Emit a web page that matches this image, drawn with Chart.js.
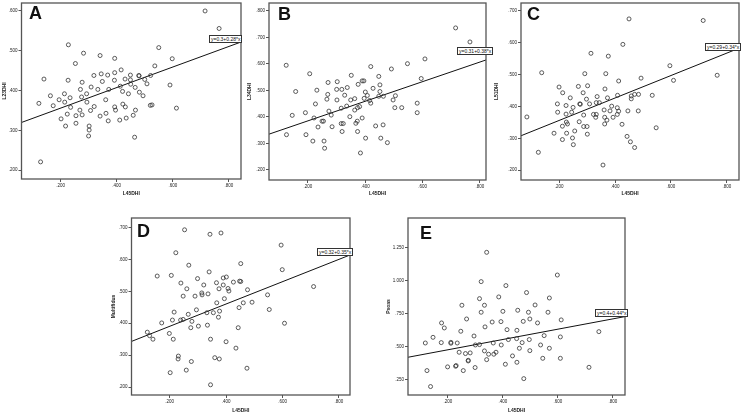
<!DOCTYPE html>
<html>
<head>
<meta charset="utf-8">
<script src="https://cdn.jsdelivr.net/npm/chart.js@4.4.0/dist/chart.umd.min.js"></script>
<style>
  body { margin: 0; background: #fff; width: 742px; height: 418px; position: relative; overflow: hidden; font-family: "Liberation Sans", Arial, sans-serif; }
  canvas { position: absolute; }
  .letter { position: absolute; font-weight: bold; font-size: 18px; line-height: 18px; color: #111; }
  .eq { position: absolute; border: 1px solid #333; background: #fff; font-size: 5px; line-height: 6px; height: 6px; padding: 0 1px; white-space: nowrap; color: #111; }
</style>
</head>
<body>
<script>
// x axis is L45DHI for every panel
const xTicks = [0.2, 0.4, 0.6, 0.8];
const xTickLabels = [".200", ".400", ".600", ".800"];
const xTitle = "L45DHI";

const panelLetters = ["A", "B", "C", "D", "E"];
const yTitles = ["L23DHI", "L34DHI", "L51DHI", "Multifidus", "Psoas"];
const eqLabels = ["y=0.3+0.28*x", "y=0.31+0.38*x", "y=0.29+0.34*x", "y=0.32+0.35*x", "y=0.4+0.44*x"];

const yTicksA = [0.2, 0.3, 0.4, 0.5, 0.6];
const yTicksB = [0.2, 0.3, 0.4, 0.5, 0.6, 0.7, 0.8];
const yTicksC = [0.2, 0.3, 0.4, 0.5, 0.6, 0.7];
const yTicksD = [0.2, 0.3, 0.4, 0.5, 0.6, 0.7];
const yTicksE = [0.25, 0.5, 0.75, 1.0, 1.25];
const yLabelsA = [".200", ".300", ".400", ".500", ".600"];
const yLabelsB = [".200", ".300", ".400", ".500", ".600", ".700", ".800"];
const yLabelsC = [".200", ".300", ".400", ".500", ".600", ".700"];
const yLabelsD = [".200", ".300", ".400", ".500", ".600", ".700"];
const yLabelsE = [".250", ".500", ".750", "1.000", "1.250"];

// axis ranges
const xRanges = [[0.061, 0.843], [0.064, 0.821], [0.064, 0.843], [0.065, 0.839], [0.055, 0.844]];
const yRanges = [[0.178, 0.62], [0.162, 0.83], [0.169, 0.725], [0.175, 0.73], [0.136, 1.477]];

const pointsA = [[0.715,0.600],[0.765,0.556],[0.228,0.515],[0.550,0.508],[0.282,0.494],[0.341,0.488],[0.393,0.481],[0.598,0.480],
  [0.253,0.468],[0.536,0.462],[0.416,0.452],[0.345,0.442],[0.393,0.445],[0.319,0.438],[0.368,0.439],[0.449,0.439],[0.479,0.438],
  [0.521,0.438],[0.480,0.437],[0.227,0.426],[0.392,0.426],[0.430,0.429],[0.500,0.428],[0.449,0.427],[0.141,0.429],[0.277,0.421],
  [0.349,0.423],[0.450,0.416],[0.508,0.417],[0.590,0.414],[0.309,0.409],[0.372,0.403],[0.413,0.411],[0.466,0.408],[0.164,0.387],
  [0.195,0.377],[0.214,0.392],[0.271,0.403],[0.293,0.392],[0.333,0.403],[0.421,0.398],[0.442,0.392],[0.481,0.396],[0.494,0.387],
  [0.174,0.362],[0.215,0.371],[0.234,0.382],[0.275,0.384],[0.294,0.371],[0.361,0.377],[0.393,0.359],[0.422,0.366],[0.431,0.359],
  [0.526,0.364],[0.520,0.363],[0.123,0.368],[0.236,0.358],[0.269,0.351],[0.307,0.350],[0.320,0.360],[0.362,0.343],[0.396,0.351],
  [0.467,0.351],[0.613,0.356],[0.224,0.341],[0.255,0.337],[0.277,0.339],[0.341,0.336],[0.411,0.326],[0.459,0.338],[0.202,0.329],
  [0.255,0.318],[0.302,0.311],[0.370,0.324],[0.434,0.331],[0.218,0.311],[0.302,0.301],[0.300,0.286],[0.464,0.283],[0.129,0.221]];

const pointsB = [[0.715,0.736],[0.765,0.683],[0.124,0.595],[0.206,0.563],[0.351,0.557],[0.419,0.590],[0.491,0.581],[0.547,0.601],
  [0.608,0.619],[0.595,0.545],[0.447,0.553],[0.157,0.496],[0.231,0.501],[0.270,0.530],[0.302,0.533],[0.269,0.485],[0.300,0.504],
  [0.318,0.504],[0.337,0.511],[0.375,0.523],[0.389,0.536],[0.395,0.536],[0.427,0.508],[0.451,0.521],[0.451,0.496],[0.400,0.494],
  [0.363,0.469],[0.328,0.482],[0.349,0.464],[0.301,0.464],[0.266,0.467],[0.226,0.449],[0.191,0.416],[0.221,0.396],[0.235,0.362],
  [0.145,0.406],[0.125,0.333],[0.193,0.333],[0.217,0.309],[0.258,0.282],[0.256,0.309],[0.249,0.384],[0.254,0.384],[0.273,0.422],
  [0.281,0.407],[0.316,0.433],[0.335,0.441],[0.363,0.426],[0.373,0.435],[0.380,0.439],[0.284,0.363],[0.316,0.375],[0.323,0.375],
  [0.346,0.401],[0.372,0.384],[0.367,0.376],[0.373,0.345],[0.319,0.345],[0.383,0.264],[0.389,0.396],[0.396,0.470],[0.407,0.481],
  [0.415,0.462],[0.419,0.452],[0.447,0.478],[0.463,0.478],[0.497,0.464],[0.503,0.435],[0.527,0.435],[0.436,0.366],[0.462,0.370],
  [0.401,0.320],[0.454,0.320],[0.477,0.303],[0.505,0.480],[0.581,0.452],[0.581,0.416]];

const pointsC = [[0.450,0.675],[0.715,0.670],[0.428,0.595],[0.314,0.567],[0.376,0.558],[0.138,0.506],[0.292,0.503],[0.367,0.503],
  [0.596,0.528],[0.765,0.498],[0.493,0.489],[0.413,0.480],[0.609,0.482],[0.200,0.461],[0.269,0.463],[0.302,0.465],[0.364,0.455],
  [0.213,0.443],[0.286,0.443],[0.240,0.427],[0.298,0.423],[0.336,0.431],[0.373,0.427],[0.409,0.435],[0.470,0.438],[0.484,0.438],
  [0.458,0.433],[0.458,0.424],[0.533,0.435],[0.194,0.408],[0.225,0.403],[0.250,0.397],[0.274,0.408],[0.276,0.407],[0.309,0.408],
  [0.344,0.412],[0.333,0.412],[0.388,0.401],[0.408,0.396],[0.361,0.389],[0.382,0.386],[0.413,0.385],[0.446,0.386],[0.483,0.386],
  [0.195,0.382],[0.225,0.376],[0.245,0.382],[0.288,0.373],[0.323,0.375],[0.333,0.375],[0.408,0.375],[0.085,0.367],[0.226,0.351],
  [0.230,0.345],[0.272,0.352],[0.331,0.366],[0.363,0.366],[0.371,0.357],[0.393,0.366],[0.363,0.345],[0.212,0.338],[0.288,0.337],
  [0.300,0.337],[0.425,0.344],[0.547,0.333],[0.182,0.316],[0.227,0.316],[0.256,0.323],[0.301,0.313],[0.212,0.296],[0.248,0.301],
  [0.443,0.306],[0.251,0.280],[0.455,0.289],[0.470,0.271],[0.126,0.256],[0.357,0.216]];

const pointsD = [[0.253,0.693],[0.222,0.621],[0.268,0.582],[0.156,0.548],[0.206,0.550],[0.240,0.526],[0.261,0.508],[0.248,0.485],
  [0.216,0.435],[0.172,0.401],[0.210,0.410],[0.121,0.372],[0.129,0.361],[0.141,0.350],[0.199,0.368],[0.213,0.350],[0.231,0.297],
  [0.230,0.288],[0.277,0.280],[0.259,0.253],[0.202,0.245],[0.345,0.207],[0.343,0.679],[0.382,0.683],[0.595,0.645],[0.340,0.561],
  [0.452,0.587],[0.599,0.568],[0.299,0.540],[0.390,0.542],[0.401,0.545],[0.321,0.520],[0.366,0.527],[0.390,0.520],[0.426,0.529],
  [0.448,0.532],[0.452,0.531],[0.375,0.508],[0.407,0.509],[0.410,0.501],[0.476,0.505],[0.290,0.485],[0.315,0.489],[0.314,0.495],
  [0.336,0.492],[0.394,0.477],[0.547,0.489],[0.367,0.464],[0.446,0.449],[0.461,0.464],[0.492,0.466],[0.553,0.443],[0.295,0.442],
  [0.266,0.428],[0.332,0.433],[0.355,0.433],[0.377,0.438],[0.373,0.419],[0.239,0.410],[0.248,0.412],[0.279,0.406],[0.275,0.386],
  [0.302,0.391],[0.334,0.394],[0.443,0.386],[0.607,0.400],[0.345,0.350],[0.400,0.342],[0.435,0.322],[0.360,0.292],[0.376,0.288],
  [0.474,0.259],[0.710,0.515]];

const pointsE = [[0.341,1.217],[0.598,1.045],[0.321,0.995],[0.411,0.965],[0.486,0.912],[0.315,0.866],[0.385,0.879],[0.569,0.871],
  [0.251,0.816],[0.333,0.816],[0.517,0.818],[0.321,0.763],[0.400,0.770],[0.454,0.778],[0.493,0.763],[0.564,0.763],[0.268,0.712],
  [0.361,0.689],[0.393,0.692],[0.474,0.694],[0.498,0.712],[0.526,0.682],[0.612,0.705],[0.177,0.682],[0.187,0.644],[0.335,0.652],
  [0.247,0.619],[0.415,0.631],[0.451,0.626],[0.146,0.573],[0.295,0.583],[0.420,0.556],[0.450,0.563],[0.496,0.556],[0.550,0.586],
  [0.609,0.576],[0.749,0.616],[0.118,0.530],[0.176,0.533],[0.211,0.528],[0.211,0.535],[0.234,0.530],[0.300,0.515],[0.315,0.518],
  [0.365,0.530],[0.394,0.515],[0.470,0.533],[0.537,0.515],[0.241,0.460],[0.264,0.450],[0.281,0.455],[0.333,0.470],[0.348,0.445],
  [0.367,0.445],[0.375,0.460],[0.460,0.490],[0.498,0.472],[0.569,0.490],[0.274,0.399],[0.274,0.394],[0.341,0.404],[0.435,0.432],
  [0.451,0.384],[0.545,0.414],[0.609,0.414],[0.409,0.369],[0.199,0.349],[0.228,0.354],[0.230,0.359],[0.299,0.344],[0.124,0.321],
  [0.256,0.321],[0.713,0.346],[0.476,0.260],[0.137,0.200]];

// fit line end points
const fitA = [[0.061, 0.320], [0.843, 0.522]];
const fitB = [[0.064, 0.335], [0.821, 0.615]];
const fitC = [[0.064, 0.308], [0.843, 0.583]];
const fitD = [[0.065, 0.343], [0.839, 0.614]];
const fitE = [[0.055, 0.422], [0.844, 0.730]];

// page layout: plot frame, title positions, letter and equation box spots
const frames = [
  { l: 21, t: 3, r: 240, b: 179, yt: 4.5, xt: 194, lx: 29, ly: 4, ex: 209, ey: 35 },
  { l: 269, t: 3, r: 486, b: 180, yt: 250, xt: 194, lx: 278, ly: 5, ex: 457, ey: 47 },
  { l: 521, t: 3, r: 739, b: 180, yt: 497, xt: 194, lx: 527, ly: 5, ex: 705, ey: 43 },
  { l: 131, t: 218, r: 349, b: 395, yt: 113.5, xt: 411, lx: 137, ly: 222, ex: 317, ey: 248 },
  { l: 408, t: 218, r: 625, b: 395, yt: 389, xt: 411, lx: 420, ly: 224, ex: 595, ey: 309 }
];

const allPoints = [pointsA, pointsB, pointsC, pointsD, pointsE];
const allFits = [fitA, fitB, fitC, fitD, fitE];
const allYTicks = [yTicksA, yTicksB, yTicksC, yTicksD, yTicksE];
const allYLabels = [yLabelsA, yLabelsB, yLabelsC, yLabelsD, yLabelsE];

const framePlugin = {
  id: "frame",
  afterDraw(chart) {
    const a = chart.chartArea, ctx = chart.ctx;
    ctx.save();
    ctx.strokeStyle = "#555";
    ctx.lineWidth = 1.3;
    ctx.strokeRect(a.left, a.top, a.right - a.left, a.bottom - a.top);
    ctx.restore();
  }
};

frames.forEach((f, i) => {
  const padT = 6, padR = 8;
  const cl = f.yt - 3;
  const ct = f.t - padT;
  const w = Math.round(f.r - cl + padR);
  const h = Math.round(f.xt + 3 - ct);
  const axL = f.l - cl;
  const axB = (ct + h) - f.b;

  const canvas = document.createElement("canvas");
  canvas.width = w; canvas.height = h;
  canvas.style.left = cl + "px"; canvas.style.top = ct + "px";
  canvas.style.width = w + "px"; canvas.style.height = h + "px";
  document.body.appendChild(canvas);

  const yT = allYTicks[i], yL = allYLabels[i];
  const tickFont = { family: "Liberation Sans", size: 4.5 };
  const titleFont = { family: "Liberation Sans", size: 5, weight: "bold" };

  new Chart(canvas.getContext("2d"), {
    type: "scatter",
    data: {
      datasets: [
        {
          data: allPoints[i].map(p => ({ x: p[0], y: p[1] })),
          pointRadius: 2,
          pointBorderWidth: 0.8,
          pointBorderColor: "#333",
          pointBackgroundColor: "rgba(255,255,255,0)"
        },
        {
          type: "line",
          data: allFits[i].map(p => ({ x: p[0], y: p[1] })),
          borderColor: "#111",
          borderWidth: 1,
          pointRadius: 0,
          fill: false
        }
      ]
    },
    options: {
      responsive: false,
      animation: false,
      devicePixelRatio: 1,
      layout: { padding: { top: padT, right: padR, left: 0, bottom: 0 } },
      plugins: { legend: { display: false }, tooltip: { enabled: false } },
      scales: {
        x: {
          type: "linear",
          min: xRanges[i][0], max: xRanges[i][1],
          afterBuildTicks: s => { s.ticks = xTicks.map(v => ({ value: v })); },
          afterFit: s => { s.height = axB; },
          ticks: { font: tickFont, color: "#222", padding: 1, autoSkip: false, maxRotation: 0, callback: (v, k) => xTickLabels[k] },
          grid: { drawOnChartArea: false, drawTicks: true, tickLength: 3, color: "#555" },
          border: { display: false },
          title: { display: true, text: xTitle, font: titleFont, color: "#222", padding: 0 }
        },
        y: {
          type: "linear",
          min: yRanges[i][0], max: yRanges[i][1],
          afterBuildTicks: s => { s.ticks = yT.map(v => ({ value: v })); },
          afterFit: s => { s.width = axL; },
          ticks: { font: tickFont, color: "#222", padding: 1, autoSkip: false, callback: (v, k) => yL[k] },
          grid: { drawOnChartArea: false, drawTicks: true, tickLength: 3, color: "#555" },
          border: { display: false },
          title: { display: true, text: yTitles[i], font: titleFont, color: "#222", padding: 0 }
        }
      }
    },
    plugins: [framePlugin]
  });

  const letter = document.createElement("div");
  letter.className = "letter";
  letter.textContent = panelLetters[i];
  letter.style.left = f.lx + "px"; letter.style.top = f.ly + "px";
  document.body.appendChild(letter);

  const eq = document.createElement("div");
  eq.className = "eq";
  eq.textContent = eqLabels[i];
  eq.style.left = f.ex + "px"; eq.style.top = f.ey + "px";
  document.body.appendChild(eq);
});
</script>
</body>
</html>
